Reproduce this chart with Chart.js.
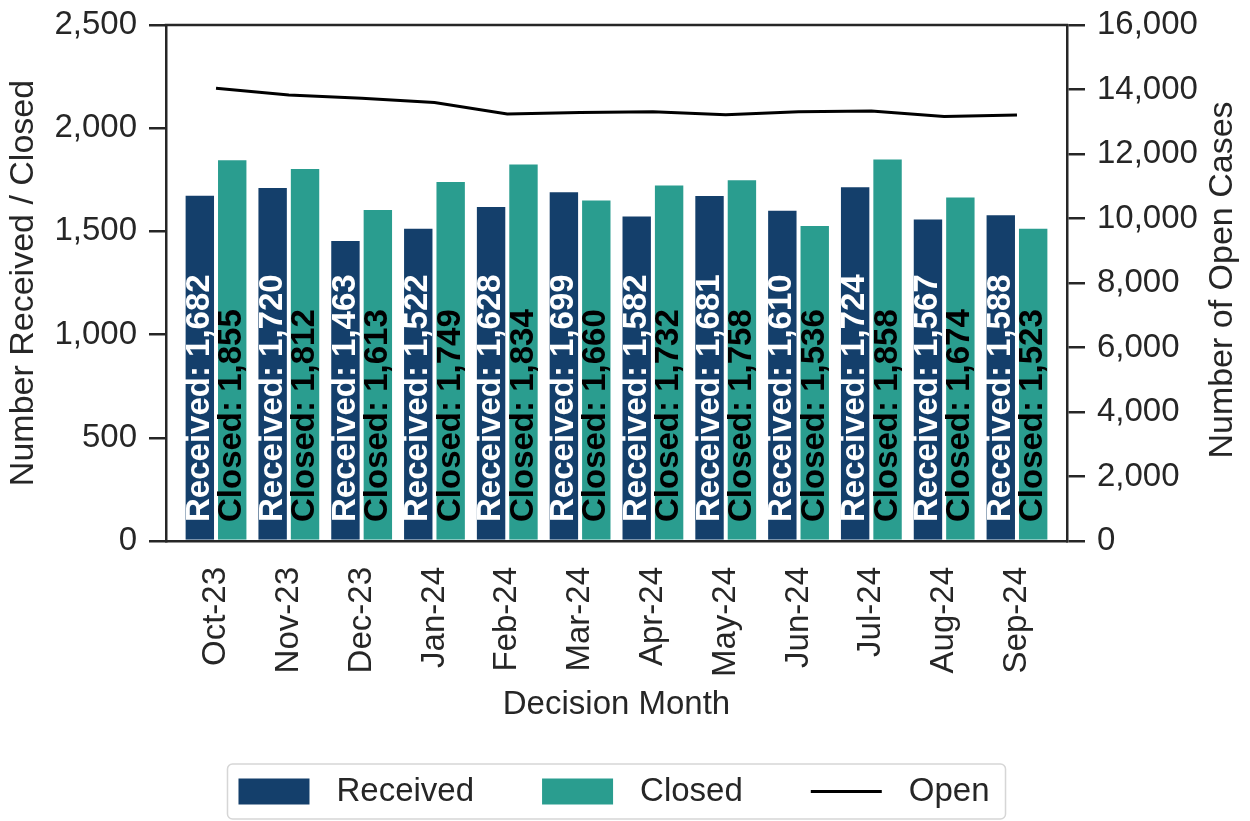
<!DOCTYPE html>
<html>
<head>
<meta charset="utf-8">
<script src="https://cdn.jsdelivr.net/npm/chart.js@4.4.1/dist/chart.umd.min.js"></script>
<style>
html,body{margin:0;padding:0;background:#fff;}
#wrap{width:1250px;height:821px;position:relative;}
</style>
</head>
<body>
<div id="wrap"><canvas id="c"></canvas></div>
<script>
const months = ['Oct-23','Nov-23','Dec-23','Jan-24','Feb-24','Mar-24','Apr-24','May-24','Jun-24','Jul-24','Aug-24','Sep-24'];
const received = [1682,1720,1463,1522,1628,1699,1582,1681,1610,1724,1567,1588];
const closed = [1855,1812,1613,1749,1834,1660,1732,1758,1536,1858,1674,1523];
const openCases = [14040,13830,13730,13600,13240,13290,13310,13220,13310,13330,13160,13210];
const leftTicks = [0,500,1000,1500,2000,2500];
const rightTicks = [0,2000,4000,6000,8000,10000,12000,14000,16000];
const seriesNames = ['Received','Closed','Open'];

const FONT = '"Liberation Sans", Arial, Helvetica, sans-serif';
const TXT = '#262626';
const C_REC = '#143f6b';
const C_CLO = '#2a9d8f';
const fmt = v => Number(v).toLocaleString('en-US');

Chart.defaults.font.family = FONT;
Chart.defaults.font.size = 33;
Chart.defaults.color = TXT;

const extras = {
  id: 'extras',
  afterDatasetsDraw(chart) {
    const ctx = chart.ctx, ca = chart.chartArea;
    const cols = ['#ffffff', '#000000'];
    [0, 1].forEach(di => {
      const meta = chart.getDatasetMeta(di);
      const vals = di === 0 ? received : closed;
      meta.data.forEach((bar, j) => {
        ctx.save();
        ctx.translate(bar.x, ca.bottom - 19);
        ctx.rotate(-Math.PI / 2);
        ctx.font = 'bold 33px ' + FONT;
        ctx.fillStyle = cols[di];
        ctx.textAlign = 'left';
        ctx.textBaseline = 'middle';
        ctx.fillText(seriesNames[di] + ': ' + fmt(vals[j]), 0, 0);
        ctx.restore();
      });
    });
  },
  afterDraw(chart) {
    const ctx = chart.ctx, ca = chart.chartArea;
    // top spine
    ctx.save();
    ctx.strokeStyle = TXT;
    ctx.lineWidth = 2.5;
    ctx.beginPath();
    ctx.moveTo(ca.left - 1.25, ca.top);
    ctx.lineTo(ca.right + 1.25, ca.top);
    ctx.stroke();
    ctx.restore();
    // right axis title
    ctx.save();
    ctx.translate(1223, (ca.top + ca.bottom) / 2 - 3);
    ctx.rotate(-Math.PI / 2);
    ctx.font = '34px ' + FONT;
    ctx.fillStyle = TXT;
    ctx.textAlign = 'center';
    ctx.textBaseline = 'middle';
    ctx.fillText('Number of Open Cases', 0, 0);
    ctx.restore();
    // legend
    ctx.save();
    ctx.font = '33px ' + FONT;
    const widths = seriesNames.map(t => ctx.measureText(t).width);
    const sw = 71, gap = 27, spacing = 68, padL = 11, padR = 16;
    let total = 0;
    widths.forEach(w => total += sw + gap + w);
    total += spacing * (seriesNames.length - 1);
    const boxW = total + padL + padR;
    const cx = (ca.left + ca.right) / 2;
    const bx = cx - boxW / 2, by = 764, bh = 55;
    ctx.fillStyle = '#ffffff';
    ctx.strokeStyle = '#d6d6d6';
    ctx.lineWidth = 1.5;
    ctx.beginPath();
    ctx.roundRect(bx, by, boxW, bh, 5);
    ctx.fill();
    ctx.stroke();
    const cy = by + bh / 2;
    let x = bx + padL;
    const swCols = [C_REC, C_CLO, '#000000'];
    seriesNames.forEach((name, i) => {
      if (i < 2) {
        ctx.fillStyle = swCols[i];
        ctx.fillRect(x, cy - 13, sw, 26);
      } else {
        ctx.strokeStyle = '#000000';
        ctx.lineWidth = 3;
        ctx.beginPath();
        ctx.moveTo(x, cy);
        ctx.lineTo(x + sw, cy);
        ctx.stroke();
      }
      ctx.fillStyle = TXT;
      ctx.textAlign = 'left';
      ctx.textBaseline = 'middle';
      ctx.fillText(name, x + sw + gap, cy);
      x += sw + gap + widths[i] + spacing;
    });
    ctx.restore();
  }
};

const noVPad = s => { s.paddingTop = 0; s.paddingBottom = 0; };

new Chart(document.getElementById('c'), {
  type: 'bar',
  data: {
    datasets: [
      {
        type: 'bar', label: seriesNames[0],
        data: received.map((v, i) => ({x: i, y: v})),
        backgroundColor: C_REC, borderColor: '#ffffff', borderWidth: 2,
        categoryPercentage: 0.89, barPercentage: 1.0,
        yAxisID: 'y', order: 1
      },
      {
        type: 'bar', label: seriesNames[1],
        data: closed.map((v, i) => ({x: i, y: v})),
        backgroundColor: C_CLO, borderColor: '#ffffff', borderWidth: 2,
        categoryPercentage: 0.89, barPercentage: 1.0,
        yAxisID: 'y', order: 1
      },
      {
        type: 'line', label: seriesNames[2],
        data: openCases.map((v, i) => ({x: i, y: v})),
        borderColor: '#000000', backgroundColor: '#000000', borderWidth: 3,
        pointRadius: 0, tension: 0, fill: false,
        yAxisID: 'y2', order: 0
      }
    ]
  },
  options: {
    responsive: true,
    maintainAspectRatio: false,
    animation: false,
    events: [],
    layout: { padding: { left: 0, right: 0, top: 25, bottom: 80 } },
    plugins: { legend: { display: false }, tooltip: { enabled: false } },
    scales: {
      x: {
        type: 'linear',
        offset: false,
        min: -0.687, max: 11.687,
        afterBuildTicks: s => { s.ticks = months.map((m, i) => ({ value: i })); },
        afterFit: s => { s.height = 200; },
        ticks: {
          autoSkip: false, minRotation: 90, maxRotation: 90, padding: 26,
          color: TXT, font: { size: 33 },
          callback: v => months[v]
        },
        grid: { display: false, drawTicks: false, offset: false },
        border: { display: true, color: TXT, width: 2.5 },
        title: { display: true, text: 'Decision Month', color: TXT, font: { size: 33 }, padding: { top: 0, bottom: 16 } }
      },
      y: {
        type: 'linear', position: 'left',
        min: 0, max: 2500,
        afterBuildTicks: s => { s.ticks = leftTicks.map(v => ({ value: v })); },
        afterFit: s => { s.width = 166; noVPad(s); },
        ticks: { padding: 12, color: TXT, font: { size: 33 }, callback: v => fmt(v) },
        grid: { display: true, drawOnChartArea: false, drawTicks: true, tickLength: 17, color: TXT, lineWidth: 2.5 },
        border: { display: true, color: TXT, width: 2.5 },
        title: { display: true, text: 'Number Received / Closed', color: TXT, font: { size: 34 }, padding: { top: 3, bottom: 0 } }
      },
      y2: {
        type: 'linear', position: 'right',
        min: 0, max: 16000,
        afterBuildTicks: s => { s.ticks = rightTicks.map(v => ({ value: v })); },
        afterFit: s => { s.width = 183; noVPad(s); },
        ticks: { padding: 12, color: TXT, font: { size: 33 }, callback: v => fmt(v) },
        grid: { display: true, drawOnChartArea: false, drawTicks: true, tickLength: 18, color: TXT, lineWidth: 2.5 },
        border: { display: true, color: TXT, width: 2.5 },
        title: { display: false }
      }
    }
  },
  plugins: [extras]
});
</script>
</body>
</html>
